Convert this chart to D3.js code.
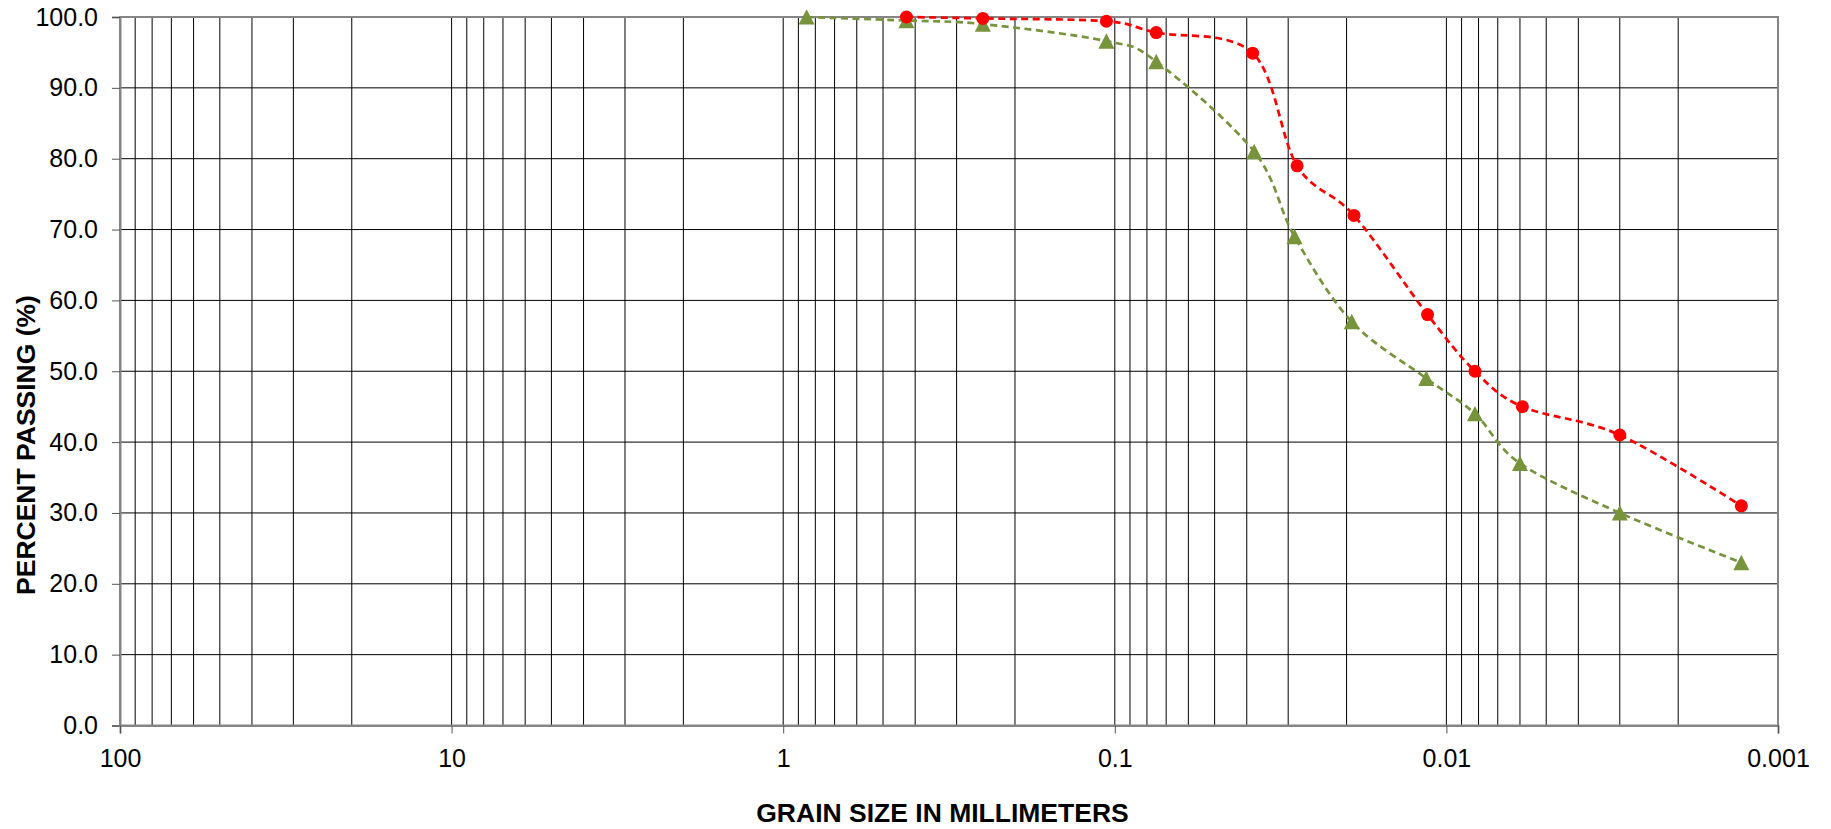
<!DOCTYPE html>
<html><head><meta charset="utf-8">
<script src="https://cdn.jsdelivr.net/npm/d3@7"></script>
<style>body{margin:0;background:#fff}</style>
</head><body>
<svg id="c" width="1831" height="829"></svg>
<script>
// ---- data ----
const redSize    = [0.425, 0.25, 0.106, 0.075, 0.0384, 0.0282, 0.0190, 0.0114, 0.0082, 0.0059, 0.0030, 0.00129];
const redPass    = [100.0, 99.8, 99.4, 97.8, 94.9, 79.0, 72.0, 58.0, 50.0, 45.0, 41.0, 31.0];
const greenSize  = [0.85, 0.425, 0.25, 0.106, 0.075, 0.0380, 0.0287, 0.0193, 0.0115, 0.0082, 0.0060, 0.0030, 0.00129];
const greenPass  = [100.0, 99.5, 99.0, 96.6, 93.7, 81.0, 69.0, 57.0, 49.0, 44.0, 37.0, 30.0, 23.0];
const xTickVals  = [100, 10, 1, 0.1, 0.01, 0.001];
const xTickLabels = ["100", "10", "1", "0.1", "0.01", "0.001"];
const yTickVals  = [0, 10, 20, 30, 40, 50, 60, 70, 80, 90, 100];
const xTitle = "GRAIN SIZE IN MILLIMETERS";
const yTitle = "PERCENT PASSING (%)";

// ---- layout ----
const L = 120, R = 1778, T = 17, B = 725.5;
const svg = d3.select("#c");
const x = d3.scaleLog().domain([100, 0.001]).range([L, R]);
const y = d3.scaleLinear().domain([0, 100]).range([B, T]);
const font = "'Liberation Sans', Arial, sans-serif";

svg.append("rect").attr("width", 1831).attr("height", 829).attr("fill", "#fff");

// vertical grid: k*10^n
const vGrid = [];
for (let e = -3; e < 2; e++) for (let k = 1; k <= 9; k++) {
  const v = k * Math.pow(10, e);
  if (v > 0.001 * 1.0001 && v < 100 * 0.9999) vGrid.push(v);
}
svg.append("g").selectAll("line").data(vGrid).join("line")
  .attr("x1", d => x(d)).attr("x2", d => x(d))
  .attr("y1", T).attr("y2", B)
  .attr("stroke", "#000").attr("stroke-width", 1);

// horizontal grid
svg.append("g").selectAll("line").data(yTickVals.filter(v => v > 0 && v < 100)).join("line")
  .attr("x1", L).attr("x2", R)
  .attr("y1", d => y(d)).attr("y2", d => y(d))
  .attr("stroke", "#000").attr("stroke-width", 1);

// plot border
svg.append("rect").attr("x", L).attr("y", T).attr("width", R - L).attr("height", B - T)
  .attr("fill", "none").attr("stroke", "#858585").attr("stroke-width", 2);

// y axis
const yAxis = d3.axisLeft(y).tickValues(yTickVals).tickFormat(d3.format(".1f")).tickSize(8).tickPadding(14);
const gy = svg.append("g").attr("transform", `translate(${L},0)`).call(yAxis);
gy.select(".domain").attr("stroke", "#858585").attr("stroke-width", 2);
gy.selectAll(".tick line").attr("stroke", "#555");
gy.selectAll(".tick text").attr("font-family", font).attr("font-size", 25).attr("fill", "#000");

// x axis
const xAxis = d3.axisBottom(x).tickValues(xTickVals).tickFormat((d, i) => xTickLabels[i]).tickSize(8).tickPadding(16);
const gx = svg.append("g").attr("transform", `translate(0,${B})`).call(xAxis);
gx.select(".domain").attr("stroke", "#858585").attr("stroke-width", 2);
gx.selectAll(".tick line").attr("stroke", "#555");
gx.selectAll(".tick text").attr("font-family", font).attr("font-size", 25).attr("fill", "#000");

// titles
svg.append("text").attr("x", 942.5).attr("y", 822).attr("text-anchor", "middle")
  .attr("font-family", font).attr("font-weight", "bold").attr("font-size", 26.5).text(xTitle);
svg.append("text").attr("transform", "translate(35,445) rotate(-90)").attr("text-anchor", "middle")
  .attr("font-family", font).attr("font-weight", "bold").attr("font-size", 26.5).text(yTitle);

// series
const line = d3.line().x(d => x(d[0])).y(d => y(d[1])).curve(d3.curveCardinal.tension(0));
const greenData = greenSize.map((s, i) => [s, greenPass[i]]);
const redData = redSize.map((s, i) => [s, redPass[i]]);

svg.append("path").datum(greenData).attr("d", line).attr("fill", "none")
  .attr("stroke", "#77933C").attr("stroke-width", 2.7).attr("stroke-dasharray", "7,4.5");
svg.append("path").datum(redData).attr("d", line).attr("fill", "none")
  .attr("stroke", "#FF0000").attr("stroke-width", 2.7).attr("stroke-dasharray", "7,4.5");

svg.append("g").selectAll("path").data(greenData).join("path")
  .attr("transform", d => `translate(${x(d[0])},${y(d[1])})`)
  .attr("d", "M0,-7.8L8,7.6L-8,7.6Z").attr("fill", "#77933C");
svg.append("g").selectAll("circle").data(redData).join("circle")
  .attr("cx", d => x(d[0])).attr("cy", d => y(d[1])).attr("r", 6.5).attr("fill", "#FF0000");
</script>
</body></html>
